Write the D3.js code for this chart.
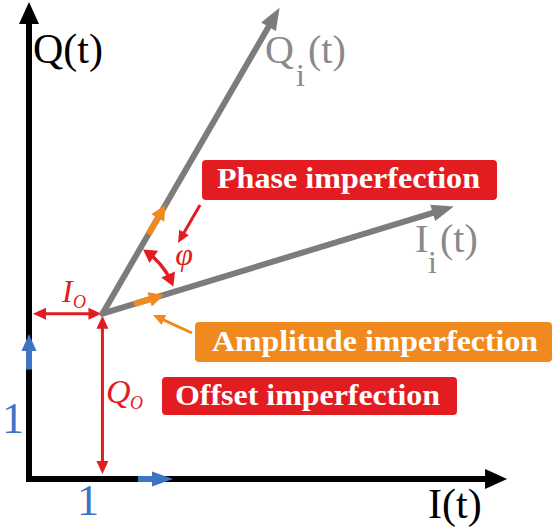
<!DOCTYPE html>
<html><head><meta charset="utf-8">
<script src="https://cdn.jsdelivr.net/npm/d3@7"></script>
</head><body style="margin:0">
<svg id="c" width="553" height="529" font-family="Liberation Serif"></svg>
<script>
// ---- data (unit = length of the blue unit vector) ----
const axisNames = ["I(t)", "Q(t)"];
const axisMax = [3.32, 3.29];
const unitLabels = ["1", "1"];
const offsetI = 0.51;            // I_O
const offsetQ = 1.14;            // Q_O
const vectorNames = ["I", "Q"];  // I_i(t), Q_i(t)
const vectorDI = [2.44, 1.23];
const vectorDQ = [0.74, 2.11];
const ampFrom = [0.09, 0.26];    // orange amplitude marks, fraction of vector length
const ampTo = [0.175, 0.355];
const boxLabels = ["Phase imperfection", "Amplitude imperfection", "Offset imperfection"];

const svg = d3.select("#c");
const x = d3.scaleLinear().domain([0, 1]).range([29, 173]);
const y = d3.scaleLinear().domain([0, 1]).range([479, 334]);

const RED = "#e31c22", ORANGE = "#f08a1e", GRAY = "#7c7c7c", BLUE = "#3d74c4";
const FONT = "Liberation Serif";

function txt(g, xx, yy, size, color, s) {
  return g.append("text").attr("x", xx).attr("y", yy).attr("font-size", size).attr("fill", color)
    .style("font-family", `"${FONT}"`).text(s);
}
function head(g, x1, y1, x2, y2, color, len, wid) {
  const dx = x2 - x1, dy = y2 - y1, L = Math.hypot(dx, dy), ux = dx / L, uy = dy / L;
  const bx = x2 - ux * len, by = y2 - uy * len;
  g.append("path").attr("d", d3.line()([[x2, y2], [bx - uy * wid / 2, by + ux * wid / 2], [bx + uy * wid / 2, by - ux * wid / 2]]) + "Z")
    .attr("fill", color);
}
function arrow(g, x1, y1, x2, y2, o) {
  const dx = x2 - x1, dy = y2 - y1, L = Math.hypot(dx, dy), ux = dx / L, uy = dy / L;
  let sx = x1, sy = y1, ex = x2, ey = y2;
  if (o.end) { ex = x2 - ux * o.len * 0.8; ey = y2 - uy * o.len * 0.8; head(g, x1, y1, x2, y2, o.color, o.len, o.hw); }
  if (o.start) { sx = x1 + ux * o.len * 0.8; sy = y1 + uy * o.len * 0.8; head(g, x2, y2, x1, y1, o.color, o.len, o.hw); }
  g.append("line").attr("x1", sx).attr("y1", sy).attr("x2", ex).attr("y2", ey)
    .attr("stroke", o.color).attr("stroke-width", o.w).attr("stroke-linecap", "butt");
}

const g = svg;
// axes
arrow(g, x(0) - 3, y(0), x(axisMax[0]), y(0), {color: "#000", w: 6, len: 22, hw: 20, end: true});
arrow(g, x(0), y(0) + 3, x(0), y(axisMax[1]), {color: "#000", w: 6, len: 22, hw: 20, end: true});
// blue unit arrows
arrow(g, x(0.756), y(0), x(1), y(0), {color: BLUE, w: 6, len: 21, hw: 15, end: true});
arrow(g, x(0), y(0.755), x(0), y(1), {color: BLUE, w: 6, len: 17, hw: 15, end: true});
txt(g, x(0.41), 515, 44, BLUE, unitLabels[0]).attr("text-anchor", "middle");
txt(g, 13, y(0.32), 44, BLUE, unitLabels[1]).attr("text-anchor", "middle");

// axis labels
txt(g, 428, 518, 42, "#000", axisNames[0]);
txt(g, 33, 63, 42, "#000", axisNames[1]);

const ox = x(offsetI), oy = y(offsetQ);

// offset arrows
arrow(g, x(0) + 4, oy, ox - 1, oy, {color: RED, w: 3, len: 13, hw: 12, start: true, end: true});
arrow(g, ox, oy + 2, ox, y(0) - 5, {color: RED, w: 3, len: 13, hw: 12, start: true, end: true});
txt(g, 62, 302, 32, RED, "I").attr("font-style", "italic");
txt(g, 73, 308, 18, RED, "O").attr("font-style", "italic");
txt(g, 106, 403, 34, RED, "Q").attr("font-style", "italic");
txt(g, 130, 409, 18, RED, "O").attr("font-style", "italic");

// vectors
const tips = vectorNames.map((n, i) => [x(offsetI + vectorDI[i]), y(offsetQ + vectorDQ[i])]);
tips.forEach((t, i) => {
  arrow(g, ox, oy, t[0], t[1], {color: GRAY, w: 6, len: 22, hw: 17, end: true});
});
g.append("circle").attr("cx", ox).attr("cy", oy).attr("r", 3).attr("fill", GRAY);
// amplitude marks
tips.forEach((t, i) => {
  const a = [ox + (t[0] - ox) * ampFrom[i], oy + (t[1] - oy) * ampFrom[i]];
  const b = [ox + (t[0] - ox) * ampTo[i], oy + (t[1] - oy) * ampTo[i]];
  arrow(g, a[0], a[1], b[0], b[1], {color: ORANGE, w: 6, len: 15, hw: 15, end: true});
});

// vector labels
const gl = [[415, 252, 428, 273, 440], [265, 63, 296, 86, 308]];
vectorNames.forEach((n, i) => {
  const p = gl[i];
  txt(g, p[0], p[1], 40, "#8a8a8a", n);
  txt(g, p[2], p[3], 32, "#8a8a8a", "i");
  txt(g, p[4], p[1], 40, "#8a8a8a", "(t)");
});

// phase arc
const angs = tips.map(t => Math.atan2(oy - t[1], t[0] - ox));
const r = 76;
const a0 = angs[1] - 0.04, a1 = angs[0] + 0.07;
const arcPts = d3.range(0, 1.0001, 0.05).map(f => { const a = a0 + (a1 - a0) * f; return [ox + r * Math.cos(a), oy - r * Math.sin(a)]; });
g.append("path").attr("d", d3.line().curve(d3.curveBasis)(arcPts.slice(2, -2))).attr("fill", "none").attr("stroke", RED).attr("stroke-width", 3.5);
head(g, arcPts[3][0], arcPts[3][1], arcPts[0][0], arcPts[0][1], RED, 13, 15);
head(g, arcPts[arcPts.length - 4][0], arcPts[arcPts.length - 4][1], arcPts[arcPts.length - 1][0], arcPts[arcPts.length - 1][1], RED, 13, 15);
txt(g, 184, 265, 32, RED, "φ").attr("text-anchor", "middle").attr("font-style", "italic");

// boxes
const boxes = [
  {x0: 202, y0: 160, x1: 497, y1: 200, tx: 217, tw: 263, ty: 188, c: RED},
  {x0: 195, y0: 322, x1: 552, y1: 362, tx: 212, tw: 326, ty: 351, c: ORANGE},
  {x0: 162, y0: 377, x1: 457, y1: 415, tx: 175, tw: 265, ty: 405, c: RED}
];
boxes.forEach((b, i) => {
  g.append("rect").attr("x", b.x0).attr("y", b.y0).attr("width", b.x1 - b.x0).attr("height", b.y1 - b.y0).attr("rx", 4).attr("fill", b.c);
  txt(g, b.tx, b.ty, 29, "#fff", boxLabels[i]).attr("font-weight", "bold")
    .attr("textLength", b.tw).attr("lengthAdjust", "spacingAndGlyphs");
});

// pointer arrows
arrow(g, 200, 205, 178, 243, {color: RED, w: 3, len: 12, hw: 11, end: true});
arrow(g, 192, 333, 153, 315, {color: ORANGE, w: 3, len: 12, hw: 11, end: true});
</script>
</body></html>
